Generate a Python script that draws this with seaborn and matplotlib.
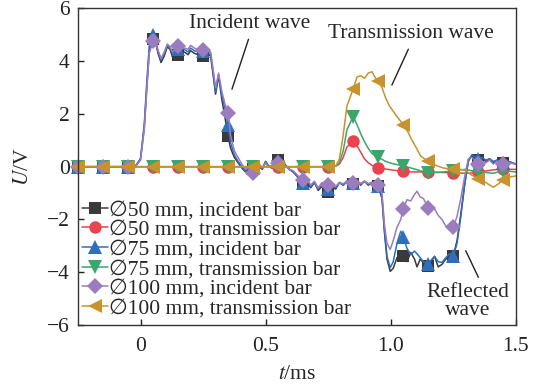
import numpy as np
import pandas as pd
import matplotlib
matplotlib.use("Agg")
import matplotlib.pyplot as plt
import seaborn as sns

# ---- time bases (ms) ----
t_inc = [-0.25, -0.15, -0.05, -0.02, 0.00, 0.015, 0.025, 0.035, 0.05, 0.06,
         0.07, 0.082, 0.095, 0.107, 0.118, 0.128, 0.138, 0.15, 0.162, 0.175,
         0.19, 0.20, 0.215, 0.23, 0.25, 0.265, 0.28, 0.29, 0.30, 0.312,
         0.325, 0.337, 0.35, 0.36, 0.375, 0.39, 0.405, 0.42, 0.435, 0.45,
         0.462, 0.475, 0.487, 0.50, 0.51, 0.525, 0.54, 0.55, 0.565, 0.58,
         0.595, 0.61, 0.625, 0.64, 0.65, 0.665, 0.68, 0.695, 0.71, 0.725,
         0.74, 0.75, 0.765, 0.78, 0.795, 0.81, 0.825, 0.84, 0.85, 0.865,
         0.88, 0.895, 0.91, 0.925, 0.94, 0.95, 0.965, 0.975, 0.985, 0.998,
         1.01, 1.025, 1.04, 1.05, 1.065, 1.08, 1.095, 1.105, 1.118, 1.13,
         1.15, 1.165, 1.175, 1.19, 1.205, 1.22, 1.235, 1.25, 1.265, 1.28,
         1.295, 1.31, 1.325, 1.34, 1.35, 1.365, 1.38, 1.395, 1.41, 1.425,
         1.44, 1.45, 1.47, 1.50]

u50_inc = [0.0, 0.0, 0.0, 0.02, 0.3, 1.5, 3.0, 4.4, 4.85, 4.7,
           4.3, 3.95, 4.2, 4.55, 4.45, 4.15, 4.2, 4.22, 4.3, 4.35,
           4.25, 4.4, 4.3, 4.25, 4.18, 4.3, 4.2, 3.5, 2.75, 3.45,
           2.55, 1.9, 1.15, 0.7, 0.35, 0.15, -0.05, -0.2, 0.05, -0.08,
           0.2, 0.0, -0.1, 0.2, 0.05, -0.05, 0.2, 0.25, 0.2, 0.05,
           -0.1, -0.2, -0.35, -0.6, -0.65, -0.55, -0.8, -0.6, -0.9, -0.75,
           -0.9, -0.95, -0.75, -0.85, -0.6, -0.7, -0.55, -0.7, -0.65, -0.55,
           -0.7, -0.55, -0.7, -0.6, -0.7, -0.75, -1.2, -2.5, -3.5, -3.97,
           -3.85, -3.45, -3.3, -3.4, -3.6, -3.25, -3.5, -3.8, -3.5, -3.65,
           -3.75, -3.55, -3.4, -3.8, -3.7, -3.5, -3.45, -3.4, -2.8, -1.8,
           -0.7, 0.2, 0.45, 0.3, 0.25, 0.35, 0.2, 0.3, 0.15, 0.25,
           0.1, 0.15, 0.2, 0.1]

u75_inc = [0.0, 0.0, 0.0, 0.02, 0.3, 1.6, 3.2, 4.6, 5.0, 4.8,
           4.4, 4.05, 4.3, 4.6, 4.5, 4.3, 4.35, 4.45, 4.5, 4.45,
           4.35, 4.5, 4.4, 4.35, 4.4, 4.4, 4.3, 3.6, 2.85, 3.5,
           2.7, 2.2, 1.6, 0.9, 0.45, 0.2, 0.0, -0.15, 0.05, -0.05,
           0.2, 0.05, -0.05, 0.2, 0.05, -0.05, 0.2, 0.2, 0.25, 0.05,
           -0.1, -0.2, -0.35, -0.55, -0.6, -0.5, -0.75, -0.6, -0.85, -0.7,
           -0.85, -0.85, -0.7, -0.8, -0.6, -0.7, -0.55, -0.65, -0.6, -0.55,
           -0.65, -0.55, -0.65, -0.6, -0.7, -0.75, -1.1, -2.4, -3.4, -3.83,
           -3.6, -2.9, -2.45, -2.65, -3.1, -3.33, -3.2, -3.3, -3.45, -3.6,
           -3.7, -3.5, -3.4, -3.6, -3.63, -3.45, -3.3, -3.4, -2.9, -1.9,
           -0.7, 0.25, 0.45, 0.35, 0.3, 0.35, 0.25, 0.3, 0.2, 0.25,
           0.15, 0.15, 0.2, 0.1]

u100_inc = [0.0, 0.0, 0.0, 0.02, 0.25, 1.4, 2.9, 4.3, 4.75, 4.7,
            4.4, 4.1, 4.35, 4.65, 4.55, 4.35, 4.45, 4.56, 4.55, 4.5,
            4.45, 4.6, 4.5, 4.45, 4.43, 4.45, 4.35, 3.7, 3.0, 3.55,
            2.85, 2.4, 2.03, 1.2, 0.6, 0.35, 0.1, -0.1, 0.0, -0.24,
            0.1, 0.1, -0.05, 0.15, 0.0, 0.05, 0.1, 0.13, 0.2, 0.0,
            -0.1, -0.15, -0.3, -0.45, -0.5, -0.45, -0.7, -0.55, -0.8, -0.6,
            -0.75, -0.7, -0.7, -0.75, -0.6, -0.65, -0.55, -0.65, -0.62, -0.55,
            -0.65, -0.55, -0.65, -0.6, -0.65, -0.69, -1.0, -2.2, -2.9, -3.14,
            -2.8, -2.3, -2.0, -1.6, -1.25, -1.3, -1.05, -0.93, -1.15, -1.2,
            -1.55, -1.6, -1.6, -1.85, -2.0, -2.25, -2.3, -2.3, -1.88, -1.2,
            -0.4, 0.3, 0.35, 0.2, 0.1, 0.2, 0.15, 0.25, 0.1, 0.2,
            0.1, 0.1, 0.15, 0.1]

t_tr = [-0.25, -0.15, -0.05, 0.05, 0.15, 0.25, 0.35, 0.45, 0.55, 0.65,
        0.75, 0.78, 0.795, 0.81, 0.825, 0.85, 0.865, 0.88, 0.895, 0.91,
        0.925, 0.94, 0.95, 0.965, 0.98, 0.995, 1.01, 1.025, 1.05, 1.07,
        1.085, 1.10, 1.12, 1.15, 1.18, 1.21, 1.25, 1.28, 1.30, 1.32,
        1.35, 1.38, 1.41, 1.43, 1.45, 1.47, 1.50]

u50_tr = [0.0, 0.0, 0.0, 0.0, 0.0, 0.0, 0.0, 0.0, 0.0, 0.0,
          0.0, 0.02, 0.1, 0.35, 0.75, 0.96, 0.8, 0.55, 0.3, 0.15,
          0.05, 0.0, -0.04, -0.06, -0.09, -0.11, -0.13, -0.15, -0.18, -0.19,
          -0.2, -0.2, -0.2, -0.2, -0.21, -0.22, -0.23, -0.24, -0.25, -0.24,
          -0.2, -0.16, -0.12, -0.1, -0.1, -0.1, -0.1]

u75_tr = [0.0, 0.0, 0.0, 0.0, 0.0, 0.0, 0.0, 0.0, 0.0, 0.0,
          0.0, 0.02, 0.15, 0.6, 1.4, 1.9, 1.6, 1.25, 0.95, 0.7,
          0.5, 0.4, 0.35, 0.28, 0.2, 0.15, 0.11, 0.08, 0.04, -0.02,
          -0.06, -0.1, -0.16, -0.23, -0.22, -0.2, -0.15, -0.12, -0.1, -0.15,
          -0.18, -0.22, -0.25, -0.2, -0.18, -0.17, -0.2]

u100_tr = [0.0, 0.0, 0.0, 0.0, 0.0, 0.0, 0.0, 0.0, 0.0, 0.0,
           0.0, 0.02, 0.3, 1.2, 2.3, 2.95, 3.4, 3.45, 3.35, 3.55,
           3.6, 3.35, 3.25, 3.0, 2.6, 2.3, 2.1, 1.9, 1.6, 1.3,
           1.0, 0.75, 0.4, 0.2, 0.05, -0.05, -0.1, -0.1, -0.15, -0.3,
           -0.45, -0.6, -0.78, -0.65, -0.5, -0.4, -0.35]

marker_times = [-0.25, -0.15, -0.05, 0.05, 0.15, 0.25, 0.35, 0.45, 0.55,
                0.65, 0.75, 0.85, 0.95, 1.05, 1.15, 1.25, 1.35, 1.45]

labels = ["\u220550 mm, incident bar", "\u220550 mm, transmission bar",
          "\u220575 mm, incident bar", "\u220575 mm, transmission bar",
          "\u2205100 mm, incident bar", "\u2205100 mm, transmission bar"]

x_ticks = [0, 0.5, 1.0, 1.5]
x_ticklabels = ["0", "0.5", "1.0", "1.5"]
y_ticks = [-6, -4, -2, 0, 2, 4, 6]

series = [
    (t_inc, u50_inc, labels[0], "#3a3a3a", "s", 8.0),
    (t_tr, u50_tr, labels[1], "#e8434f", "o", 9.0),
    (t_inc, u75_inc, labels[2], "#2d6fbd", "^", 9.5),
    (t_tr, u75_tr, labels[3], "#3aa66c", "v", 9.5),
    (t_inc, u100_inc, labels[4], "#9a7cbf", "D", 8.5),
    (t_tr, u100_tr, labels[5], "#c8932c", "<", 9.5),
]

FS = 15.5

sns.set_theme(style="ticks")
plt.rcParams["font.family"] = ["Liberation Serif", "DejaVu Sans"]
plt.rcParams["mathtext.fontset"] = "stix"
plt.rcParams["axes.unicode_minus"] = True

fig = plt.figure(figsize=(5.34, 3.85), dpi=100)
ax = fig.add_axes([0.146, 0.156, 0.820, 0.822])

for t, u, lab, col, mk, ms in series:
    df = pd.DataFrame({"t": t, "u": u})
    tt = np.asarray(t)
    idx = [int(np.argmin(np.abs(tt - m))) for m in marker_times]
    sns.lineplot(data=df, x="t", y="u", ax=ax, color=col, lw=1.1,
                 marker=mk, markersize=ms, markevery=idx,
                 markeredgewidth=0, label=lab, estimator=None, sort=False,
                 clip_on=False)

ax.set_xlim(-0.25, 1.5)
ax.set_ylim(-6, 6)
ax.set_xticks(x_ticks)
ax.set_xticklabels(x_ticklabels)
ax.set_yticks(y_ticks)
ax.tick_params(direction="in", length=4, width=1, labelsize=FS, colors="#222222")
ax.tick_params(axis="x", pad=9)
ax.tick_params(axis="y", pad=6)
for s in ax.spines.values():
    s.set_visible(True)
    s.set_linewidth(1.0)
    s.set_color("#333333")
ax.set_xlabel(r"$t$/ms", fontsize=FS, labelpad=6)
ax.set_ylabel(r"$U$/V", fontsize=FS, labelpad=10)

leg = ax.legend(loc="lower left", bbox_to_anchor=(-0.005, 0.0), frameon=False,
                fontsize=FS, handlelength=1.2, handletextpad=0.05,
                labelspacing=-0.02, borderaxespad=0.2, borderpad=0.1)

# annotations
ax.text(0.435, 5.43, "Incident wave", fontsize=FS, ha="center", va="center")
ax.annotate("", xy=(0.362, 2.84), xytext=(0.435, 4.93),
            arrowprops=dict(arrowstyle="-", lw=1.0, color="#222222"))
ax.text(1.08, 5.05, "Transmission wave", fontsize=FS, ha="center", va="center")
ax.annotate("", xy=(1.0, 3.0), xytext=(1.075, 4.55),
            arrowprops=dict(arrowstyle="-", lw=1.0, color="#222222"))
ax.text(1.307, -5.11, "Reflected\nwave", fontsize=FS, ha="center", va="center",
        linespacing=0.95)
ax.annotate("", xy=(1.295, -3.09), xytext=(1.355, -4.29),
            arrowprops=dict(arrowstyle="-", lw=1.0, color="#222222"))

fig.savefig("out.png", dpi=100)
